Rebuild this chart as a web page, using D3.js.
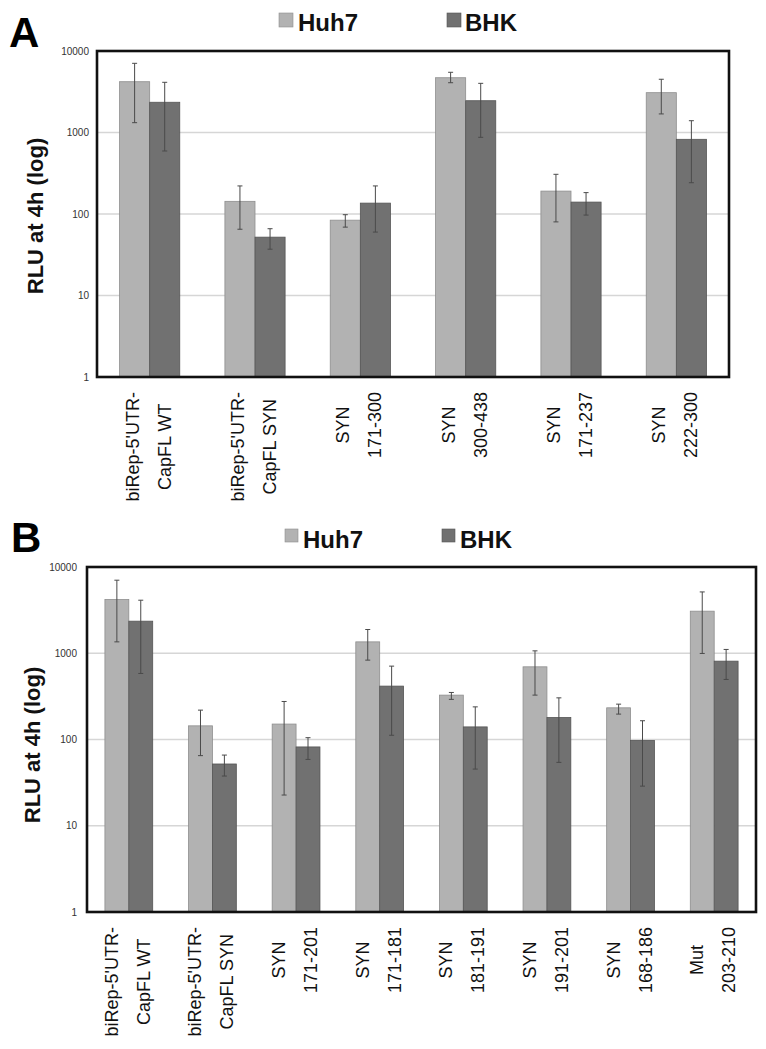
<!DOCTYPE html>
<html>
<head>
<meta charset="utf-8">
<script src="https://cdn.jsdelivr.net/npm/d3@7"></script>
<style>
  html, body { margin: 0; padding: 0; background: #fff; }
  svg { display: block; font-family: "Liberation Sans", Arial, sans-serif; }
</style>
</head>
<body>
<svg id="chart" width="766" height="1049"></svg>
<script>
// ---------- DATA ----------
const seriesNames = ["Huh7", "BHK"];
const yTickValues = [1, 10, 100, 1000, 10000];
const yGridValues = [10, 100, 1000];
const yAxisTitle = "RLU at 4h (log)";

// Panel A
const categoriesA = [
  ["biRep-5'UTR-", "CapFL WT"],
  ["biRep-5'UTR-", "CapFL SYN"],
  ["SYN", "171-300"],
  ["SYN", "300-438"],
  ["SYN", "171-237"],
  ["SYN", "222-300"]
];
const huh7A    = [4200, 143, 84, 4700, 191, 3080];
const huh7ALo  = [1320, 65, 69, 4080, 80, 1690];
const huh7AHi  = [7060, 221, 98, 5480, 307, 4500];
const bhkA     = [2350, 52, 136, 2455, 140, 825];
const bhkALo   = [593, 37, 60, 873, 97, 242];
const bhkAHi   = [4130, 66, 221, 4010, 183, 1395];

// Panel B
const categoriesB = [
  ["biRep-5'UTR-", "CapFL WT"],
  ["biRep-5'UTR-", "CapFL SYN"],
  ["SYN", "171-201"],
  ["SYN", "171-181"],
  ["SYN", "181-191"],
  ["SYN", "191-201"],
  ["SYN", "168-186"],
  ["Mut", "203-210"]
];
const huh7B    = [4200, 144, 151, 1355, 327, 696, 233, 3075];
const huh7BLo  = [1355, 65, 22.7, 832, 292, 327, 197, 995];
const huh7BHi  = [7030, 219, 276, 1885, 351, 1066, 257, 5140];
const bhkB     = [2355, 52, 82, 416, 140, 180, 97.5, 810];
const bhkBLo   = [583, 37.7, 58.8, 112, 45.4, 54.3, 28.8, 497];
const bhkBHi   = [4120, 66, 105, 709, 239, 304, 165, 1107];

// ---------- STYLE ----------
const fills   = { Huh7: "#b2b2b2", BHK: "#717171" };
const strokes = { Huh7: "#8e8e8e", BHK: "#555555" };

const svg = d3.select("#chart");

function drawPanel(cfg) {
  const { letter, cats, values, frame, legend, tickGap, titlePos, letterPos } = cfg;
  const g = svg.append("g");

  const x = d3.scaleBand()
    .domain(d3.range(cats.length))
    .range([frame.left, frame.right])
    .padding(0);
  const xs = d3.scaleBand()
    .domain(seriesNames)
    .range([0, x.bandwidth()])
    .paddingInner(0)
    .paddingOuter(0.75);
  const y = d3.scaleLog()
    .domain([1, 10000])
    .range([frame.bottom, frame.top]);

  // grid
  g.append("g").selectAll("line")
    .data(yGridValues).join("line")
    .attr("x1", frame.left).attr("x2", frame.right)
    .attr("y1", d => y(d)).attr("y2", d => y(d))
    .attr("stroke", "#d6d6d6").attr("stroke-width", 1.5);

  // bars
  const rows = [];
  cats.forEach((c, i) => {
    seriesNames.forEach(s => {
      rows.push({ i, s, v: values[s].v[i], lo: values[s].lo[i], hi: values[s].hi[i] });
    });
  });

  g.append("g").selectAll("rect")
    .data(rows).join("rect")
    .attr("x", d => x(d.i) + xs(d.s))
    .attr("width", xs.bandwidth())
    .attr("y", d => y(d.v))
    .attr("height", d => y(1) - y(d.v))
    .attr("fill", d => fills[d.s])
    .attr("stroke", d => strokes[d.s])
    .attr("stroke-width", 0.8);

  // error bars
  const eb = g.append("g").attr("stroke", "#4a4a4a").attr("stroke-width", 1);
  const cx = d => x(d.i) + xs(d.s) + xs.bandwidth() / 2;
  eb.selectAll("line.v").data(rows).join("line").attr("class", "v")
    .attr("x1", cx).attr("x2", cx)
    .attr("y1", d => y(d.hi)).attr("y2", d => y(d.lo));
  eb.selectAll("line.t").data(rows).join("line").attr("class", "t")
    .attr("x1", d => cx(d) - 2.5).attr("x2", d => cx(d) + 2.5)
    .attr("y1", d => y(d.hi)).attr("y2", d => y(d.hi));
  eb.selectAll("line.b").data(rows).join("line").attr("class", "b")
    .attr("x1", d => cx(d) - 2.5).attr("x2", d => cx(d) + 2.5)
    .attr("y1", d => y(d.lo)).attr("y2", d => y(d.lo));

  // frame
  g.append("rect")
    .attr("x", frame.left).attr("y", frame.top)
    .attr("width", frame.right - frame.left)
    .attr("height", frame.bottom - frame.top)
    .attr("fill", "none").attr("stroke", "#111").attr("stroke-width", 2.6);

  // y axis ticks
  const yAxis = d3.axisLeft(y)
    .tickValues(yTickValues)
    .tickFormat(d3.format("d"))
    .tickSize(0)
    .tickPadding(tickGap);
  const ya = g.append("g")
    .attr("transform", `translate(${frame.left},0)`)
    .call(yAxis);
  ya.select(".domain").remove();
  ya.selectAll("text")
    .attr("font-size", 10)
    .attr("fill", "#333")
    .attr("font-family", "\"Liberation Sans\", Arial, sans-serif");

  // y axis title
  g.append("text")
    .attr("transform", `translate(${titlePos.x},${titlePos.y}) rotate(-90)`)
    .attr("text-anchor", "middle")
    .attr("font-size", 22)
    .attr("font-weight", "bold")
    .attr("fill", "#111")
    .text(yAxisTitle);

  // x category labels (rotated, multi-line, lines centered on longest line)
  const lineGap = 32;
  const labelTop = frame.bottom + 15;
  cats.forEach((lines, i) => {
    const c = x(i) + x.bandwidth() / 2;
    const lg = g.append("g");
    const t = lg.append("text")
      .attr("text-anchor", "middle")
      .attr("font-size", 18)
      .attr("fill", "#111");
    const spans = lines.map((ln, k) =>
      t.append("tspan").attr("x", 0).attr("y", k * lineGap).text(ln));
    const maxLen = d3.max(spans, s => s.node().getComputedTextLength());
    const baseX = c - 11;
    lg.attr("transform", `translate(${baseX},${labelTop + maxLen / 2}) rotate(-90)`);
  });

  // legend
  const lgd = g.append("g");
  seriesNames.forEach((s, k) => {
    const it = legend.items[k];
    lgd.append("rect")
      .attr("x", it.sx).attr("y", legend.sy)
      .attr("width", legend.size).attr("height", legend.size)
      .attr("fill", fills[s]).attr("stroke", strokes[s]).attr("stroke-width", 0.6);
    lgd.append("text")
      .attr("x", it.tx).attr("y", legend.ty)
      .attr("font-size", 24).attr("font-weight", "bold")
      .attr("fill", "#111")
      .text(s);
  });

  // panel letter
  g.append("text")
    .attr("x", letterPos.x).attr("y", letterPos.y)
    .attr("font-size", 42).attr("font-weight", "bold")
    .attr("fill", "#000")
    .text(letter);
}

drawPanel({
  letter: "A",
  cats: categoriesA,
  values: {
    Huh7: { v: huh7A, lo: huh7ALo, hi: huh7AHi },
    BHK:  { v: bhkA,  lo: bhkALo,  hi: bhkAHi }
  },
  frame: { left: 97, right: 729, top: 51, bottom: 377 },
  tickGap: 8,
  titlePos: { x: 43, y: 216 },
  letterPos: { x: 9, y: 47 },
  legend: { sy: 13, size: 14, ty: 31,
            items: [{ sx: 279, tx: 298 }, { sx: 447, tx: 465 }] }
});

drawPanel({
  letter: "B",
  cats: categoriesB,
  values: {
    Huh7: { v: huh7B, lo: huh7BLo, hi: huh7BHi },
    BHK:  { v: bhkB,  lo: bhkBLo,  hi: bhkBHi }
  },
  frame: { left: 87, right: 756, top: 567, bottom: 912 },
  tickGap: 10,
  titlePos: { x: 40, y: 745 },
  letterPos: { x: 11, y: 552 },
  legend: { sy: 529, size: 13, ty: 548,
            items: [{ sx: 285, tx: 303 }, { sx: 442, tx: 460 }] }
});
</script>
</body>
</html>
